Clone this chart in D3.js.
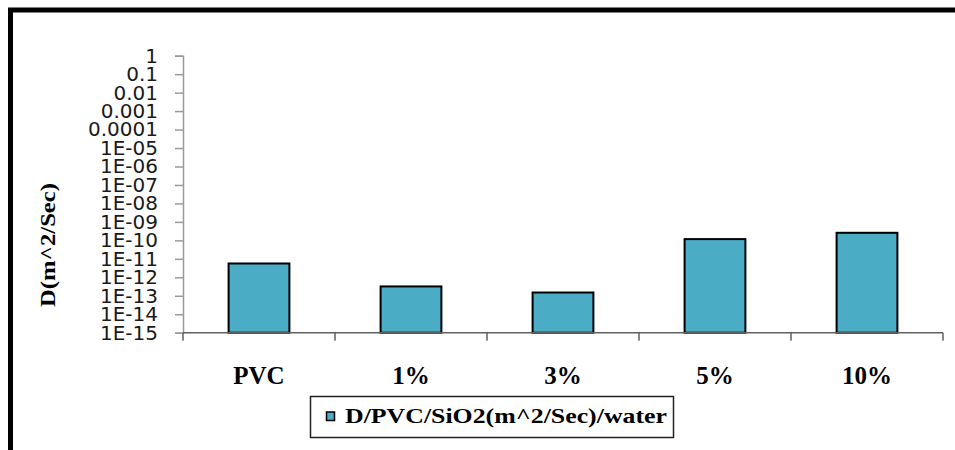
<!DOCTYPE html>
<html>
<head>
<meta charset="utf-8">
<script src="https://cdn.jsdelivr.net/npm/d3@7"></script>
<style>
  html, body { margin: 0; padding: 0; background: #fff; overflow: hidden; }
  svg { display: block; }
</style>
</head>
<body>
<svg id="chart"></svg>
<script>
// Data
const categories = ["PVC", "1%", "3%", "5%", "10%"];
const diffusion = [5.6e-12, 3.2e-13, 1.5e-13, 1.17e-10, 2.57e-10];
const yTicks = [1, 0.1, 0.01, 0.001, 0.0001, 1e-5, 1e-6, 1e-7, 1e-8, 1e-9, 1e-10, 1e-11, 1e-12, 1e-13, 1e-14, 1e-15];
const yTickLabels = ["1", "0.1", "0.01", "0.001", "0.0001", "1E-05", "1E-06", "1E-07", "1E-08", "1E-09", "1E-10", "1E-11", "1E-12", "1E-13", "1E-14", "1E-15"];
const seriesName = "D/PVC/SiO2(m^2/Sec)/water";
const yTitle = "D(m^2/Sec)";

// Chart Dimensions
const width = 955;
const height = 450;
const plot = { left: 183, right: 943, top: 55.7, bottom: 332.7 };
const barColor = "#4BACC6";

const svg = d3.select("#chart").attr("width", width).attr("height", height);

// Outer frame (runs off the right / bottom edges like the source)
svg.append("rect")
  .attr("x", 10.5).attr("y", 10)
  .attr("width", 1000).attr("height", 500)
  .attr("fill", "#fff")
  .attr("stroke", "#000")
  .attr("stroke-width", 5);

// Scales
const x = d3.scaleBand()
  .domain(categories)
  .range([plot.left, plot.right])
  .paddingInner(0.6)
  .paddingOuter(0.3);

const y = d3.scaleLog()
  .domain([1e-15, 1])
  .range([plot.bottom, plot.top]);

// Y axis
const yAxis = d3.axisLeft(y)
  .tickValues(yTicks)
  .tickFormat((d, i) => yTickLabels[i])
  .tickSize(8)
  .tickPadding(17);

const gy = svg.append("g")
  .attr("transform", `translate(${plot.left},0)`)
  .call(yAxis);
gy.select(".domain").attr("stroke", "#9a9a9a").attr("stroke-width", 1.5);
gy.selectAll(".tick line").attr("stroke", "#9a9a9a").attr("stroke-width", 1.5);
gy.selectAll(".tick text")
  .attr("fill", "#1a1a1a")
  .style("font-family", "'DejaVu Sans', sans-serif")
  .style("font-size", "20px");

// Bars
svg.selectAll(".bar")
  .data(categories)
  .enter()
  .append("rect")
  .attr("class", "bar")
  .attr("x", (d) => x(d))
  .attr("y", (d, i) => y(diffusion[i]))
  .attr("width", x.bandwidth())
  .attr("height", (d, i) => y(1e-15) - y(diffusion[i]))
  .attr("fill", barColor)
  .attr("stroke", "#000")
  .attr("stroke-width", 2);

// X axis: baseline, boundary ticks, labels
svg.append("line")
  .attr("x1", plot.left).attr("x2", plot.right)
  .attr("y1", y(1e-15)).attr("y2", y(1e-15))
  .attr("stroke", "#606060")
  .attr("stroke-width", 1.5);

svg.selectAll(".xtick")
  .data(d3.range(categories.length + 1))
  .enter()
  .append("line")
  .attr("class", "xtick")
  .attr("x1", (i) => plot.left + i * x.step())
  .attr("x2", (i) => plot.left + i * x.step())
  .attr("y1", y(1e-15))
  .attr("y2", y(1e-15) + 8)
  .attr("stroke", "#606060")
  .attr("stroke-width", 1.5);

svg.selectAll(".xlabel")
  .data(categories)
  .enter()
  .append("text")
  .attr("class", "xlabel")
  .attr("x", (d) => x(d) + x.bandwidth() / 2)
  .attr("y", 384)
  .attr("text-anchor", "middle")
  .style("font-family", "'Liberation Serif', 'Times New Roman', serif")
  .style("font-weight", "bold")
  .style("font-size", "25px")
  .text((d) => d);

// Y axis title
svg.append("text")
  .attr("transform", "translate(55,245) rotate(-90)")
  .attr("text-anchor", "middle")
  .attr("textLength", 124)
  .attr("lengthAdjust", "spacingAndGlyphs")
  .style("font-family", "'Liberation Serif', 'Times New Roman', serif")
  .style("font-weight", "bold")
  .style("font-size", "22px")
  .text(yTitle);

// Legend
const legend = svg.append("g");
legend.append("rect")
  .attr("x", 310.5).attr("y", 396.5)
  .attr("width", 363).attr("height", 41)
  .attr("fill", "#fff")
  .attr("stroke", "#222")
  .attr("stroke-width", 1.5);
legend.append("rect")
  .attr("x", 326.5).attr("y", 412)
  .attr("width", 8).attr("height", 8.5)
  .attr("fill", barColor)
  .attr("stroke", "#000")
  .attr("stroke-width", 1.5);
legend.append("text")
  .attr("x", 345)
  .attr("y", 423)
  .attr("textLength", 322)
  .attr("lengthAdjust", "spacingAndGlyphs")
  .style("font-family", "'Liberation Serif', 'Times New Roman', serif")
  .style("font-weight", "bold")
  .style("font-size", "21px")
  .text(seriesName);
</script>
</body>
</html>
